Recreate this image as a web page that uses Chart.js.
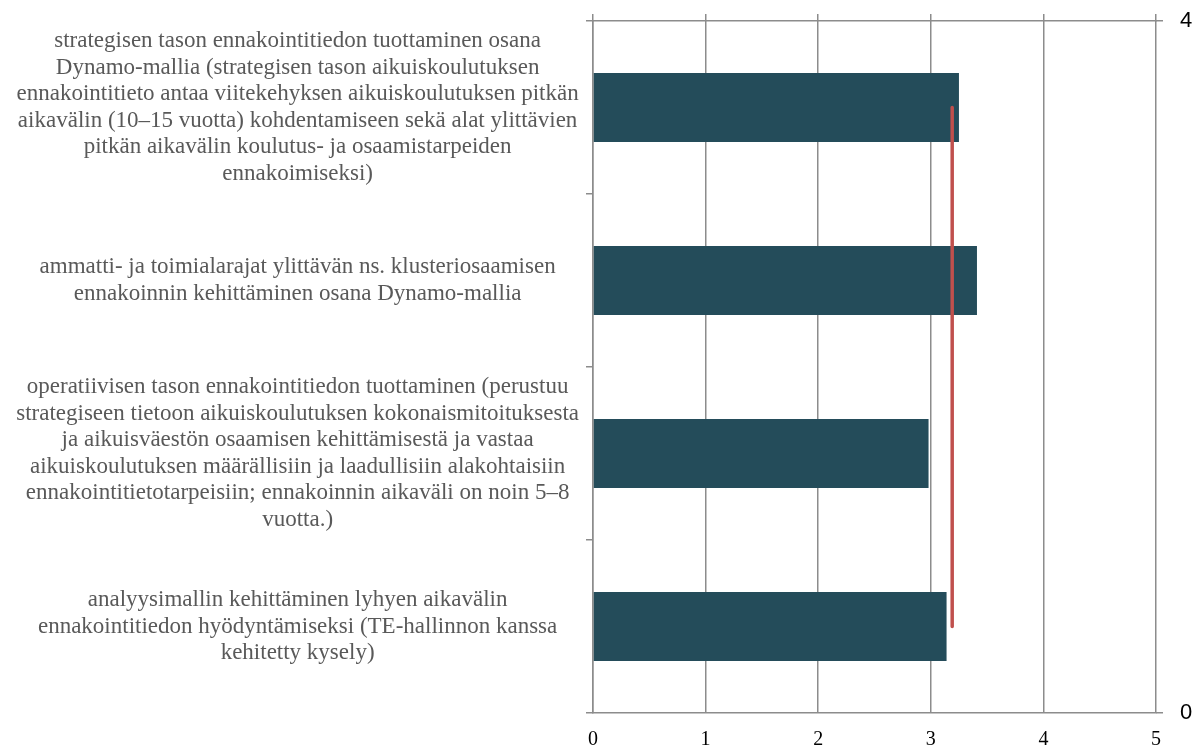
<!DOCTYPE html>
<html>
<head>
<meta charset="utf-8">
<script src="https://cdn.jsdelivr.net/npm/chart.js@4/dist/chart.umd.min.js"></script>
<style>
  html, body { margin: 0; padding: 0; background: #fff; }
  #wrap { width: 1201px; height: 748px; position: relative; }
</style>
</head>
<body>
<div id="wrap"><canvas id="avgChart"></canvas></div>
<script>
const categories = [
  ["strategisen tason ennakointitiedon tuottaminen osana",
   "Dynamo-mallia (strategisen tason aikuiskoulutuksen",
   "ennakointitieto antaa viitekehyksen aikuiskoulutuksen pitkän",
   "aikavälin (10–15 vuotta) kohdentamiseen sekä alat ylittävien",
   "pitkän aikavälin koulutus- ja osaamistarpeiden",
   "ennakoimiseksi)"],
  ["ammatti- ja toimialarajat ylittävän ns. klusteriosaamisen",
   "ennakoinnin kehittäminen osana Dynamo-mallia"],
  ["operatiivisen tason ennakointitiedon tuottaminen (perustuu",
   "strategiseen tietoon aikuiskoulutuksen kokonaismitoituksesta",
   "ja aikuisväestön osaamisen kehittämisestä ja vastaa",
   "aikuiskoulutuksen määrällisiin ja laadullisiin alakohtaisiin",
   "ennakointitietotarpeisiin; ennakoinnin aikaväli on noin 5–8",
   "vuotta.)"],
  ["analyysimallin kehittäminen lyhyen aikavälin",
   "ennakointitiedon hyödyntämiseksi (TE-hallinnon kanssa",
   "kehitetty kysely)"]
];
const barValues = [3.25, 3.41, 2.98, 3.14];
const avgValue = 3.19;
// the red line runs from the first category to the last one
const avgLineEnds = [categories[0], categories[3]];
const xTicks = [0, 1, 2, 3, 4, 5];
const rightTicks = [0, 4];

const gridGray = "#8c8c8c";

const noPad = (s) => {
  s.paddingTop = 0;
  s.paddingBottom = 0;
  s.paddingLeft = 0;
  s.paddingRight = 0;
};

const drawChart = () => {
  const ctx = document.getElementById("avgChart");
  new Chart(ctx, {
    type: "bar",
    data: {
      labels: categories,
      datasets: [
        {
          type: "line",
          label: "keskiarvo",
          data: avgLineEnds.map((c) => ({ x: avgValue, y: c })),
          xAxisID: "x",
          yAxisID: "y",
          borderColor: "#c0504d",
          borderWidth: 3.5,
          borderCapStyle: "round",
          pointRadius: 0,
          fill: false,
        },
        {
          label: "arvo",
          data: barValues,
          xAxisID: "x",
          yAxisID: "y",
          backgroundColor: "#244c5a",
          grouped: false,
          barPercentage: 0.4,
          categoryPercentage: 1,
        },
      ],
    },
    options: {
      indexAxis: "y",
      responsive: true,
      maintainAspectRatio: false,
      animation: false,
      layout: { padding: { top: 14, left: 0, right: 0, bottom: 0 } },
      plugins: { legend: { display: false }, tooltip: { enabled: false } },
      scales: {
        x: {
          type: "linear",
          position: "bottom",
          min: 0,
          max: 5,
          afterBuildTicks: (s) => { s.ticks = xTicks.map((v) => ({ value: v })); },
          afterFit: (s) => { s.height = 35; noPad(s); },
          grid: { color: gridGray, lineWidth: 1.5, drawTicks: false },
          border: { color: gridGray, width: 1.5 },
          ticks: {
            color: "#000",
            padding: 15,
            font: { family: "Liberation Serif", size: 20 },
          },
        },
        x2: {
          type: "linear",
          position: "top",
          display: true,
          min: 0,
          max: 5,
          afterBuildTicks: (s) => { s.ticks = xTicks.map((v) => ({ value: v })); },
          afterFit: (s) => { s.height = 7; noPad(s); },
          grid: { color: gridGray, lineWidth: 1.5, drawOnChartArea: false, tickLength: 7 },
          border: { color: gridGray, width: 1.5 },
          ticks: { display: false },
        },
        y: {
          type: "category",
          position: "left",
          offset: true,
          afterFit: (s) => { s.width = 593; noPad(s); },
          grid: { offset: true, color: gridGray, lineWidth: 1.5, drawOnChartArea: false, tickLength: 7 },
          border: { color: gridGray, width: 1.5 },
          ticks: {
            color: "#595959",
            crossAlign: "center",
            padding: 7,
            font: { family: "Liberation Serif", size: 23, lineHeight: 1.15 },
          },
        },
        y2: {
          type: "linear",
          position: "right",
          min: 0,
          max: 4,
          offset: false,
          afterBuildTicks: (s) => { s.ticks = rightTicks.map((v) => ({ value: v })); },
          afterFit: (s) => { s.width = 45; noPad(s); },
          grid: { offset: false, color: gridGray, lineWidth: 1.5, drawOnChartArea: false, tickLength: 7 },
          border: { display: false },
          ticks: {
            color: "#000",
            padding: 17,
            font: { family: "Liberation Sans", size: 22 },
          },
        },
      },
    },
  });
};

drawChart();
</script>
</body>
</html>
